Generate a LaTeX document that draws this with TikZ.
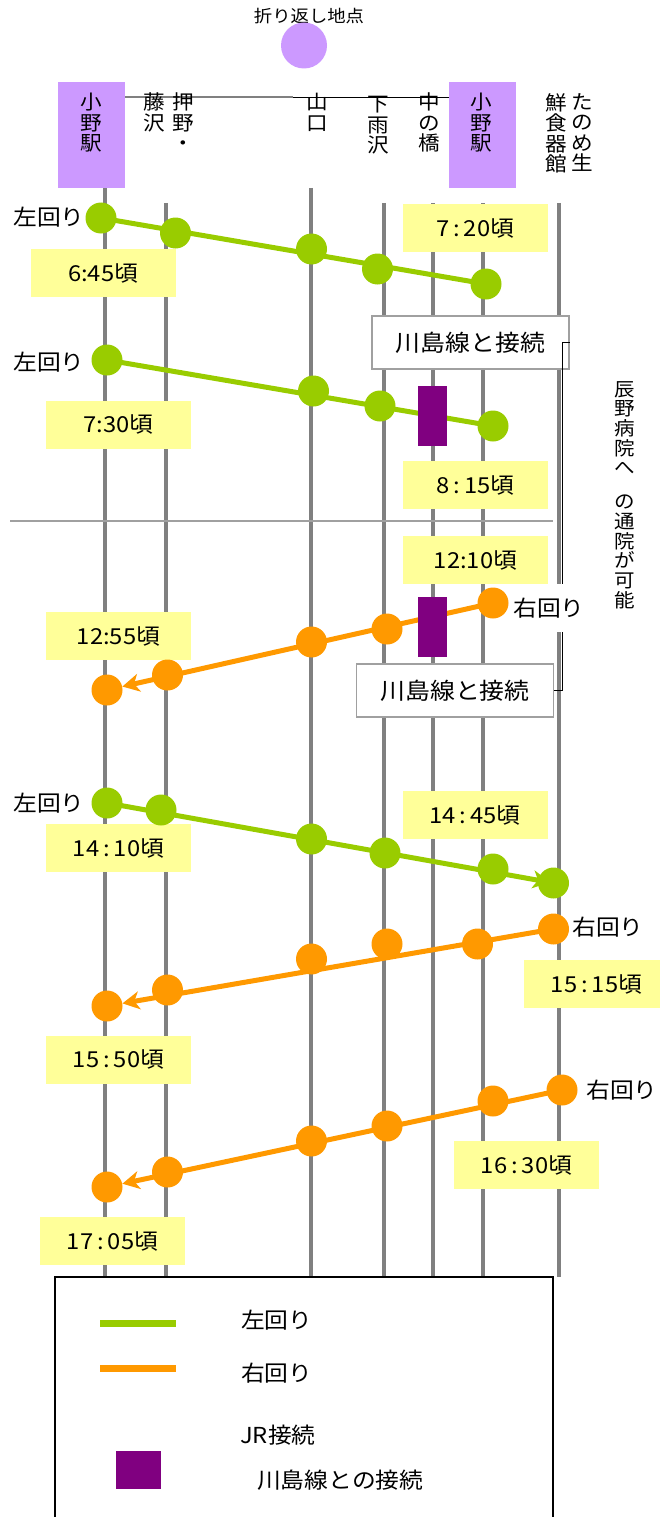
\documentclass[tikz,border=0pt]{standalone}
\usepackage{fontspec}
\setmainfont{Noto Sans CJK JP}[FakeStretch=1.08]
\usetikzlibrary{arrows.meta}
\pgfdeclarelayer{bg}
\pgfsetlayers{bg,main}
\definecolor{lgreen}{HTML}{99CC00}
\definecolor{lorange}{HTML}{FF9900}
\definecolor{jrpurple}{HTML}{800080}
\definecolor{lpurple}{HTML}{CC99FF}
\definecolor{lyellow}{HTML}{FFFF99}
\definecolor{railgray}{HTML}{808080}
\definecolor{boxgray}{HTML}{A0A0A0}
\newcommand\wc{\hspace{4pt}:\hspace{4pt}}
\tikzset{
  rail/.style={draw=railgray, line width=4pt},
  gdot/.style={circle, fill=lgreen, minimum size=31pt, inner sep=0pt},
  odot/.style={circle, fill=lorange, minimum size=31pt, inner sep=0pt},
  gline/.style={draw=lgreen, line width=5pt},
  oline/.style={draw=lorange, line width=5pt},
  runarrow/.style={-{Stealth[length=17pt,width=18pt,inset=5pt]}},
  timebox/.style={fill=lyellow, inner sep=0pt, minimum width=145pt, minimum height=48pt, font=\fontsize{22}{24}\selectfont},
  kbox/.style={draw=boxgray, fill=white, line width=1.5pt, inner sep=0pt, minimum width=197pt, minimum height=53pt, font=\fontsize{23}{25}\selectfont},
  jrbox/.style={fill=jrpurple, inner sep=0pt, minimum width=29pt, minimum height=60pt},
  stnbox/.style={fill=lpurple, inner sep=0pt, minimum width=67pt, minimum height=106pt},
  vlabel/.style={anchor=north, align=center, inner sep=0pt, font=\fontsize{20}{20.5}\selectfont},
  dirlabel/.style={inner sep=1pt, font=\fontsize{22}{24}\selectfont},
  legtext/.style={anchor=west, inner sep=0pt, font=\fontsize{22}{24}\selectfont},
  bracketline/.style={draw=black, line width=1.2pt},
}
\begin{document}
\begin{tikzpicture}[x=1pt, y=-1pt]
\clip (0,0) rectangle (660,1517);
\useasboundingbox (0,0) rectangle (660,1517);

% ---- header ----
\node[inner sep=0pt, font=\fontsize{17}{19}\selectfont] (turnlbl) at (309,16) {折り返し地点};
\node[circle, fill=lpurple, minimum size=46pt, inner sep=0pt] (turn) at (304,45.5) {};
\node[stnbox] (stnL) at (91.5,135) {};
\node[stnbox] (stnR) at (482.5,135) {};
\coordinate (mid) at (293,97.5);
\draw[draw=railgray, line width=2pt] (stnL.east |- mid) -- (mid);
\draw[draw=black, line width=1pt] (mid) -- (stnR.west |- mid);

\node[vlabel] (tL) at (91,93) {小\\野\\駅};
\node[vlabel] (tOshi) at (183,93) {押\\野\\・};
\node[vlabel] (tFuji) at (154,93) {藤\\沢};
\node[vlabel] (tYama) at (317,93) {山\\口};
\node[vlabel] (tShimo) at (378,96) {下\\雨\\沢};
\node[vlabel] (tNaka) at (429,93) {中\\の\\橋};
\node[vlabel] (tR) at (481,93) {小\\野\\駅};
\node[vlabel] (tTano) at (582,93) {た\\の\\め\\生};
\node[vlabel] (tSen) at (556,93) {鮮\\食\\器\\館};

% ---- rails & separators (background) ----
\begin{pgfonlayer}{bg}
\draw[rail] (105,188) -- (105,1276);
\draw[rail] (166,203) -- (166,1276);
\draw[rail] (311,188) -- (311,1276);
\draw[rail] (384,203) -- (384,1276);
\draw[rail] (433,203) -- (433,1276);
\draw[rail] (483,203) -- (483,1276);
\draw[rail] (559,203) -- (559,1277);
\draw[draw=boxgray, line width=1.5pt] (10,521) -- (553,521);
\end{pgfonlayer}

% ---- time boxes ----
\node[timebox] (t645) at (103,273) {6:45頃};
\node[timebox] (t720) at (475,228) {7\wc 20頃};
\node[timebox] (t730) at (118.5,424.5) {7:30頃};
\node[timebox] (t815) at (475.5,485) {8\wc 15頃};
\node[timebox] (t1210) at (475.5,560) {12:10頃};
\node[timebox] (t1255) at (118.5,636) {12:55頃};
\node[timebox] (t1410) at (118.5,848) {14\wc 10頃};
\node[timebox] (t1445) at (475,815) {14\wc 45頃};
\node[timebox] (t1515) at (596.5,984) {15\wc 15頃};
\node[timebox] (t1550) at (118.5,1059.5) {15\wc 50頃};
\node[timebox] (t1630) at (526.5,1165) {16\wc 30頃};
\node[timebox] (t1705) at (112.5,1241) {17\wc 05頃};

% ---- Kawashima line boxes and bracket ----
\node[kbox] (k1) at (470.5,342.5) {川島線と接続};
\node[kbox] (k2) at (455,690.5) {川島線と接続};
\draw[bracketline] (k1.east) -- ++(-7pt,0) |- (k2.east);
\node[anchor=north, align=center, inner sep=0pt, font=\fontsize{19}{19.7}\selectfont] (note) at (625,381)
  {辰\\野\\病\\院\\へ\\[14pt]の\\通\\院\\が\\可\\能};

% ---- direction labels ----
\node[dirlabel] (l1) at (49,217) {左回り};
\node[dirlabel] (l2) at (49,362) {左回り};
\node[dirlabel] (l4) at (49,803) {左回り};
\node[dirlabel, fill=white, inner xsep=20pt, inner ysep=14pt] (r3) at (549,608) {右回り};
\node[dirlabel] (r5) at (608,927) {右回り};
\node[dirlabel] (r6) at (622,1090) {右回り};

% ---- run 1 ----
\node[gdot] (g1a) at (101,218) {};
\node[gdot] (g1b) at (175.5,233) {};
\node[gdot] (g1c) at (311.5,249) {};
\node[gdot] (g1d) at (377.5,269) {};
\node[gdot] (g1e) at (486,284) {};
% ---- run 2 ----
\node[gdot] (g2a) at (107,360) {};
\node[gdot] (g2b) at (313.5,391) {};
\node[gdot] (g2c) at (380,406) {};
\node[gdot] (g2d) at (493,426) {};
% ---- run 3 ----
\node[odot] (o3a) at (493,603) {};
\node[odot] (o3b) at (387,629) {};
\node[odot] (o3c) at (311.5,642) {};
\node[odot] (o3d) at (167.5,675) {};
\node[odot] (o3e) at (107,690) {};
% ---- run 4 ----
\node[gdot] (g4a) at (107,803) {};
\node[gdot] (g4b) at (161,810) {};
\node[gdot] (g4c) at (311.5,839) {};
\node[gdot] (g4d) at (385,853) {};
\node[gdot] (g4e) at (493,869) {};
\node[gdot] (g4f) at (553.5,883) {};
% ---- run 5 ----
\node[odot] (o5a) at (553.5,929) {};
\node[odot] (o5b) at (477.5,944) {};
\node[odot] (o5c) at (387,944) {};
\node[odot] (o5d) at (311.5,959) {};
\node[odot] (o5e) at (167.5,990) {};
\node[odot] (o5f) at (107,1006) {};
% ---- run 6 ----
\node[odot] (o6a) at (562,1090) {};
\node[odot] (o6b) at (493,1101) {};
\node[odot] (o6c) at (387,1126) {};
\node[odot] (o6d) at (311.5,1141) {};
\node[odot] (o6e) at (167.5,1172) {};
\node[odot] (o6f) at (107,1187) {};

% ---- JR connection marks ----
\node[jrbox] (jr1) at (432.5,416) {};
\node[jrbox] (jr2) at (432.5,627) {};

% ---- run lines (background, above rails) ----
\begin{pgfonlayer}{bg}
\draw[gline] (g1a.center) -- (g1e.center);
\draw[gline] (g2a.center) -- (g2d.center);
\draw[oline, runarrow] (o3a.center) -- (o3e);
\draw[gline, runarrow, shorten >=-12pt] (g4a.center) -- (g4f);
\draw[oline, runarrow] (o5a.center) -- (o5f);
\draw[oline, runarrow] (o6a.center) -- (o6f);
\end{pgfonlayer}

% ---- legend ----
\draw[draw=black, line width=1.5pt] (55,1277) rectangle (553,1530);
\coordinate (lgA1) at (100,1323);
\coordinate (lgA2) at (176,1323);
\coordinate (lgB1) at (100,1368);
\coordinate (lgB2) at (176,1368);
\draw[draw=lgreen, line width=7pt] (lgA1) -- (lgA2);
\draw[draw=lorange, line width=7pt] (lgB1) -- (lgB2);
\node[legtext] (lt1) at (241,1320) {左回り};
\node[legtext] (lt2) at (241,1373) {右回り};
\node[legtext] (lt3) at (240,1435) {JR接続};
\node[fill=jrpurple, inner sep=0pt, minimum width=45pt, minimum height=38pt] (lsq) at (138.5,1470) {};
\node[legtext] (lt4) at (257,1480) {川島線との接続};
\end{tikzpicture}
\end{document}
